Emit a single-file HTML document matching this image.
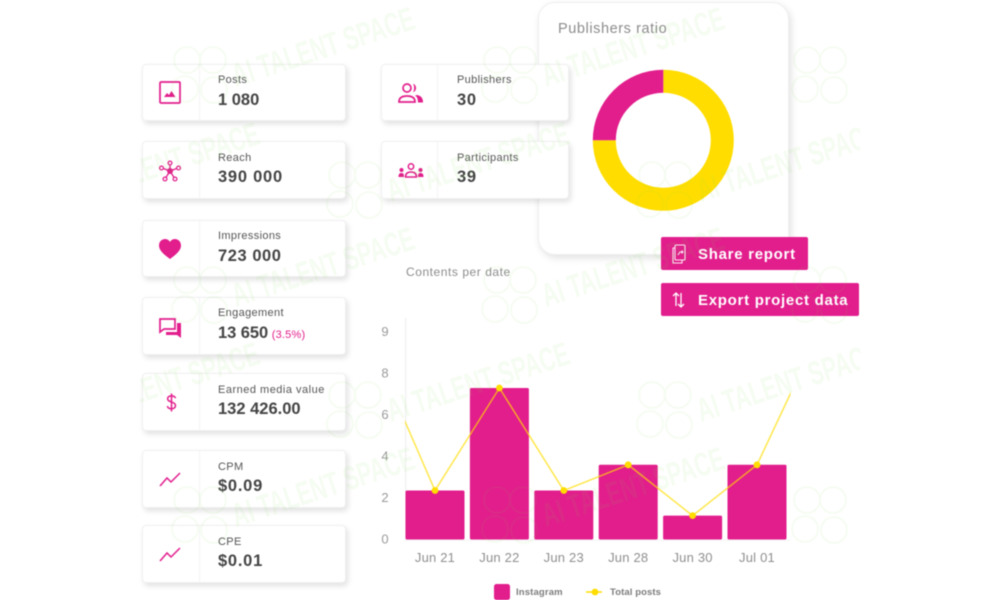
<!DOCTYPE html>
<html lang="en">
<head>
<meta charset="utf-8">
<title>Campaign report</title>
<style>
html,body{margin:0;padding:0;background:#fff;overflow:hidden}
#page{position:relative;width:1000px;height:600px;overflow:hidden;background:#fff;font-family:"Liberation Sans",sans-serif;filter:blur(.5px)}
.card{position:absolute;background:#fff;border:1px solid #f0f0f0;border-radius:4px;box-shadow:2px 3px 6px rgba(0,0,0,.12);box-sizing:border-box}
.card .divider{position:absolute;top:0;bottom:0;width:1px;background:#f4f4f4}
.card svg{position:absolute}
.card .lbl{position:absolute;font-size:11px;letter-spacing:.35px;color:#555;white-space:nowrap;line-height:13px}
.card .val{position:absolute;font-size:16.5px;font-weight:bold;letter-spacing:.75px;color:#444;white-space:nowrap;line-height:20px}
.card .val small{font-size:11px;color:#e21d8c;font-weight:normal;letter-spacing:.2px;margin-left:-1px}
#ratio{position:absolute;left:538px;top:2px;width:251px;height:253px;background:#fff;border:1px solid #efefef;border-radius:17px;box-shadow:2px 3px 8px rgba(0,0,0,.12);box-sizing:border-box}
#ratio-title{position:absolute;left:558px;top:21px;font-size:14.5px;letter-spacing:.58px;color:#8c8c8c;white-space:nowrap}
.btn{position:absolute;background:#e21d8c;color:#fff;font-weight:bold;font-size:15px;letter-spacing:.72px;border-radius:2px;box-sizing:border-box;line-height:35px;padding-left:37px;white-space:nowrap;height:33px;left:661px;overflow:hidden}
.btn svg{position:absolute;left:10px;top:7px}
#contents-title{position:absolute;left:406px;top:265px;font-size:12px;letter-spacing:.55px;color:#8c8c8c;white-space:nowrap}
#chart,#watermark{position:absolute;left:0;top:0}
#watermark{pointer-events:none}
</style>
</head>
<body>
<div id="page">

<div id="ratio"></div>
<div id="ratio-title">Publishers ratio</div>
<svg id="donut" width="1000" height="600" style="position:absolute;left:0;top:0"></svg>

<div class="card" style="left:142px;top:64px;width:204px;height:57px">
  <div class="divider" style="left:56px"></div>
  <svg style="left:16px;top:16px" width="22" height="24" viewBox="0 0 22 24"><rect x="1" y="1" width="20" height="21" rx="1" fill="none" stroke="#e21d8c" stroke-width="1.7"/><path d="M5 16l3-4 2 2 2.500-4 4 6z" fill="#e21d8c"/></svg>
  <div class="lbl" style="left:75px;top:9px">Posts</div><div class="val" style="left:75px;top:25px;letter-spacing:0">1 080</div>
</div>
<div class="card" style="left:142px;top:141px;width:204px;height:58px">
  <div class="divider" style="left:56px"></div>
  <svg style="left:16px;top:18px" width="22" height="22" viewBox="0 0 22 22"><g stroke="#e21d8c" stroke-width="1.300" fill="none"><path d="M11 11V3M11 11L3 8M11 11l8-3M11 11l-5 8M11 11l5 8"/><circle cx="11" cy="3" r="1.900" fill="#fff"/><circle cx="2.500" cy="8" r="1.900" fill="#fff"/><circle cx="19.500" cy="8" r="1.900" fill="#fff"/><circle cx="6" cy="19" r="1.900" fill="#fff"/><circle cx="16" cy="19" r="1.900" fill="#fff"/></g><circle cx="11" cy="11" r="3" fill="#e21d8c"/></svg>
  <div class="lbl" style="left:75px;top:10px">Reach</div><div class="val" style="left:75px;top:25px">390 000</div>
</div>
<div class="card" style="left:142px;top:220px;width:204px;height:57px">
  <div class="divider" style="left:56px"></div>
  <svg style="left:16px;top:18px" width="22" height="21" viewBox="0 0 22 21"><path d="M11 20C4 15 0 11 0 6.500 0 2.500 3 0 6 0c2 0 4 1 5 3 1-2 3-3 5-3 3 0 6 2.500 6 6.500C22 11 18 15 11 20z" fill="#e21d8c"/></svg>
  <div class="lbl" style="left:75px;top:9px">Impressions</div><div class="val" style="left:75px;top:25px;letter-spacing:.55px">723 000</div>
</div>
<div class="card" style="left:142px;top:297px;width:204px;height:58px">
  <div class="divider" style="left:56px"></div>
  <svg style="left:16px;top:20px" width="23" height="21" viewBox="0 0 23 21"><path d="M1 1h15v10H5l-4 3z" fill="#fff" stroke="#e21d8c" stroke-width="1.700"/><path d="M18 5h4v15l-4-3H7v-3h11z" fill="#e21d8c"/></svg>
  <div class="lbl" style="left:75px;top:9px">Engagement</div><div class="val" style="left:75px;top:25px;letter-spacing:-.05px">13 650 <small>(3.5%)</small></div>
</div>
<div class="card" style="left:142px;top:373px;width:204px;height:58px">
  <div class="divider" style="left:56px"></div>
  <svg style="left:23px;top:18px" width="11" height="21" viewBox="0 0 14 24"><path d="M12 6.500C11.500 4.500 9.500 3.500 7 3.500 4 3.500 2 5 2 7.300c0 5 10 3 10 8.700 0 2.500-2 4-5 4-3 0-4.800-1.300-5.300-3.500M7 .5v23" fill="none" stroke="#e21d8c" stroke-width="1.900"/></svg>
  <div class="lbl" style="left:75px;top:10px;letter-spacing:.5px">Earned media value</div><div class="val" style="left:75px;top:25px;letter-spacing:0">132 426.00</div>
</div>
<div class="card" style="left:142px;top:450px;width:204px;height:58px">
  <div class="divider" style="left:56px"></div>
  <svg style="left:16px;top:20px" width="22" height="16" viewBox="0 0 22 16"><path d="M1 15l7-8 4 4 9-9" fill="none" stroke="#e21d8c" stroke-width="1.500"/></svg>
  <div class="lbl" style="left:75px;top:10px">CPM</div><div class="val" style="left:75px;top:25px">$0.09</div>
</div>
<div class="card" style="left:142px;top:525px;width:204px;height:58px">
  <div class="divider" style="left:56px"></div>
  <svg style="left:16px;top:20px" width="22" height="16" viewBox="0 0 22 16"><path d="M1 15l7-8 4 4 9-9" fill="none" stroke="#e21d8c" stroke-width="1.500"/></svg>
  <div class="lbl" style="left:75px;top:10px">CPE</div><div class="val" style="left:75px;top:25px">$0.01</div>
</div>
<div class="card" style="left:381px;top:64px;width:188px;height:57px">
  <div class="divider" style="left:55px"></div>
  <svg style="left:16px;top:18px" width="26" height="21" viewBox="0 0 26 21"><g fill="none" stroke="#e21d8c" stroke-width="1.700"><circle cx="9" cy="5" r="4"/><path d="M1 19c0-4 3-6 8-6s8 2 8 6z"/></g><path d="M15 .8a4.500 4.500 0 0 1 0 8.500c1.500-2.500 1.500-6 0-8.500zM19 12c4 .7 6 3 6 7.500h-5c0-3-.5-5.500-3-7z" fill="#e21d8c"/></svg>
  <div class="lbl" style="left:75px;top:9px">Publishers</div><div class="val" style="left:75px;top:25px">30</div>
</div>
<div class="card" style="left:381px;top:141px;width:188px;height:58px">
  <div class="divider" style="left:55px"></div>
  <svg style="left:16px;top:21px" width="26" height="16" viewBox="0 0 26 16"><g fill="none" stroke="#e21d8c" stroke-width="1.500"><circle cx="13" cy="3.500" r="2.700"/><path d="M7.500 14c0-3.500 2-5 5.500-5s5.500 1.500 5.500 5z"/></g><g fill="#e21d8c"><circle cx="3.500" cy="7" r="2"/><circle cx="22.500" cy="7" r="2"/><path d="M.5 14c0-3 1-4 3-4s2.500 1 2.500 4zM20 14c0-3 .5-4 2.500-4s3 1 3 4z"/></g></svg>
  <div class="lbl" style="left:75px;top:10px">Participants</div><div class="val" style="left:75px;top:25px">39</div>
</div>

<div id="contents-title">Contents per date</div>
<svg id="chart" width="1000" height="600" font-family="Liberation Sans, sans-serif"></svg>

<div class="btn" style="top:237px;width:147px">
  <svg width="16" height="20" viewBox="0 0 16 20"><g fill="none" stroke="#fff" stroke-width="1.100" opacity=".9"><rect x="4" y="1" width="10" height="15" rx="1"/><path d="M4 4H2v15h9v-3"/><path d="M7 11l2-3h3M10.500 6.500L12 8l-1.500 1.500"/></g></svg>Share report</div>
<div class="btn" style="top:283px;width:198px">
  <svg width="16" height="20" viewBox="0 0 16 20"><path d="M5 16V3M2 6l3-3 3 3M10 3v14M7 14l3 3 3-3" fill="none" stroke="#fff" stroke-width="1.300"/></svg>Export project data</div>

<svg id="watermark" width="1000" height="600" font-family="Liberation Sans Narrow, Liberation Sans, sans-serif">
  <defs><clipPath id="wm-clip"><rect x="140" y="0" width="720" height="600"/></clipPath></defs>
  <g id="wm-group" clip-path="url(#wm-clip)"></g>
</svg>
</div>

<script>
const categories = ['Jun 21','Jun 22','Jun 23','Jun 28','Jun 30','Jul 01'];
const instagramValues = [2.36,7.3,2.36,3.6,1.15,3.6];
// first and last entries lie outside the visible dates; the line is clipped at the plot edges
const totalPostsValues = [9.5,2.36,7.3,2.36,3.6,1.15,3.6,10.2];
const yTickLabels = ['0','2','4','6','8','9'];
const yTickValues = [0,2,4,6,8,10];
const donutLabels = ['Yellow publishers','Pink publishers'];
const donutValues = [75,25];

const NS = 'http://www.w3.org/2000/svg';
function make(parent, tag, attrs, txt){
  const el = document.createElementNS(NS, tag);
  for (const k in attrs) el.setAttribute(k, attrs[k]);
  if (txt !== undefined) el.textContent = txt;
  parent.appendChild(el);
  return el;
}

/* bar and line chart */
const chart = document.getElementById('chart');
const PINK = '#e21d8c', YEL = '#ffdd00';
const band = 64.4, firstCenter = 435, barW = 59, y0 = 539.5, unit = 20.75;
const xAt = i => firstCenter + band * i;
const yAt = v => y0 - v * unit;
const defs = make(chart, 'defs', {});
const clip = make(defs, 'clipPath', {id:'plot-clip'});
make(clip, 'rect', {x:405, y:320, width:385.500, height:225});

const yAxis = make(chart, 'line', {x1:405.700, x2:405.700, y1:318, y2:y0+1, stroke:'#ededed', 'stroke-width':1});


const xAxis = make(chart, 'line', {x1:405, x2:790, y1:y0+0.7, y2:y0+0.7, stroke:'#f1f1f1', 'stroke-width':1});



yTickLabels.forEach((t, i) => {
  const el = make(chart, 'text', {x:385, y:yAt(yTickValues[i]) + 4, 'text-anchor':'middle', 'font-size':13, fill:'#9a9a9a'}, t);
  
  
});
categories.forEach((c, i) => {
  const el = make(chart, 'text', {x:xAt(i), y:562, 'text-anchor':'middle', 'font-size':13, 'letter-spacing':.2, fill:'#8f8f8f'}, c);
  
  
});
instagramValues.forEach((v, i) => {
  const el = make(chart, 'rect', {x:xAt(i)-barW/2, y:yAt(v), width:barW, height:y0-yAt(v), rx:1.500, fill:PINK});
  
  
});
const linePts = totalPostsValues.map((v, i) => xAt(i-1) + ',' + yAt(v)).join(' ');
const line = make(chart, 'polyline', {points:linePts, fill:'none', stroke:YEL, 'stroke-width':1.500, opacity:.7, 'clip-path':'url(#plot-clip)'});


totalPostsValues.forEach((v, i) => {
  if (i === 0 || i === totalPostsValues.length - 1) return;
  const el = make(chart, 'circle', {cx:xAt(i-1), cy:yAt(v), r:3.400, fill:YEL});
  
  
});

/* legend */
const lg1 = make(chart, 'rect', {x:494, y:584, width:16, height:16, rx:2.500, fill:PINK});


const lg2 = make(chart, 'text', {x:516, y:595, 'font-size':9.500, 'letter-spacing':.15, fill:'#7c7c7c', 'font-weight':'bold'}, 'Instagram');


const lg3 = make(chart, 'line', {x1:586, x2:602, y1:592, y2:592, stroke:YEL, 'stroke-width':1.500});


const lg4 = make(chart, 'circle', {cx:595, cy:592, r:3.400, fill:YEL});


const lg5 = make(chart, 'text', {x:610, y:595, 'font-size':9.500, 'letter-spacing':.1, fill:'#7c7c7c', 'font-weight':'bold'}, 'Total posts');



/* donut */
const donut = document.getElementById('donut');
const cx = 663.300, cy = 140.300, rO = 70.500, rI = 47.500;
const donutColors = [YEL, PINK];
const donutTotal = donutValues.reduce((a, b) => a + b, 0);
let cum = 0;
donutValues.forEach((v, i) => {
  const a0 = cum / donutTotal * 2 * Math.PI - Math.PI / 2;
  cum += v;
  const a1 = cum / donutTotal * 2 * Math.PI - Math.PI / 2;
  const big = (a1 - a0) > Math.PI ? 1 : 0;
  const p = (r, a) => (cx + r * Math.cos(a)) + ' ' + (cy + r * Math.sin(a));
  const d = 'M' + p(rO, a0) + 'A' + rO + ' ' + rO + ' 0 ' + big + ' 1 ' + p(rO, a1) +
            'L' + p(rI, a1) + 'A' + rI + ' ' + rI + ' 0 ' + big + ' 0 ' + p(rI, a0) + 'Z';
  const el = make(donut, 'path', {d:d, fill:donutColors[i]});
  
  
  make(el, 'title', {}, donutLabels[i]);
});

/* watermark: marks whose text would leave the frame are omitted */
const wm = document.getElementById('wm-group');
const WMC = '#7fe04a';
[45,200,355,510,665,820].forEach((x, c) => {
  [0,1,2].forEach(r => {
    const y = (c % 2 === 1 ? 75 : 190) + 220 * r;
    if (y > 560) return;
    const g = make(wm, 'g', {transform:'translate(' + x + ',' + y + ')', opacity:.07});
    
    
    if (x > 100) {
      [[-13,-15],[13,-15],[-15,14],[14,15]].forEach(o => {
        make(g, 'circle', {cx:o[0], cy:o[1], r:13, fill:'none', stroke:WMC, 'stroke-width':1.800});
      });
    }
    if (x < 800) {
      make(g, 'text', {x:36, y:12, transform:'rotate(-18 36 12)', 'font-size':33, 'font-weight':'bold', fill:WMC, textLength:190, lengthAdjust:'spacingAndGlyphs'}, 'AI TALENT SPACE');
    }
  });
});
</script>
</body>
</html>
